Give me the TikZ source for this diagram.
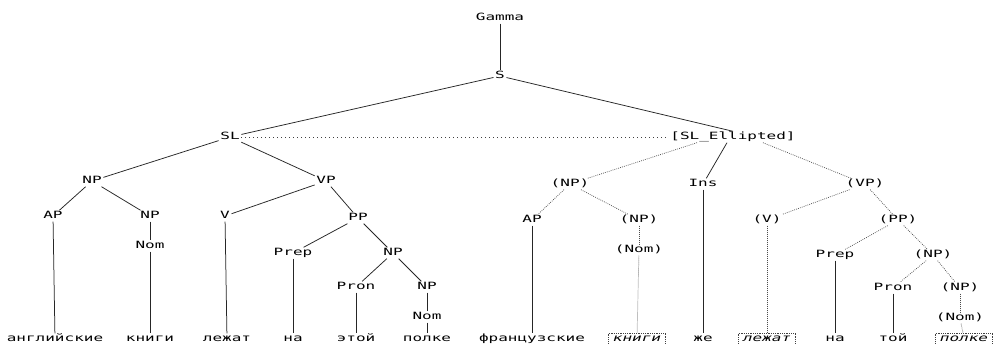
\documentclass[tikz,border=0pt]{standalone}
\usepackage{fontspec}
\newfontfamily\treefont[FakeStretch=1.6]{DejaVu Sans Mono}
\begin{document}
\begin{tikzpicture}[x=1pt,y=-1pt,
  lab/.style={font={\fontsize{10}{12}\treefont}, inner sep=1.5pt, text height=7pt, text depth=1pt},
  wbox/.style={lab, font={\fontsize{10}{12}\treefont\itshape}, draw=black!75, line width=0.6pt, dash pattern=on 0.8pt off 1pt, inner xsep=4.5pt},
  sol/.style={draw=black!85, line width=0.75pt},
  dot/.style={draw=black!70, line width=0.7pt, dash pattern=on 0.8pt off 1.2pt},
  sparse/.style={draw=black!75, line width=0.8pt, dash pattern=on 0.9pt off 3.1pt}]
\fill[white] (0,0) rectangle (994,344);
\useasboundingbox (0,0) rectangle (994,344);
% top
\node[lab] (G) at (500,18) {Gamma};
\node[lab] (S) at (500,76) {S};
\node[lab] (SL) at (230,137) {SL};
\node[lab] (SLE) at (733,137) {[SL\_Ellipted]};
% left subtree
\node[lab] (NPa) at (92,181) {NP};
\node[lab] (VPa) at (326,181) {VP};
\node[lab] (APa) at (53,216) {AP};
\node[lab] (NPb) at (150,216) {NP};
\node[lab] (Noma) at (150,246) {Nom};
\node[lab] (Va) at (225,216) {V};
\node[lab] (PPa) at (358,218) {PP};
\node[lab] (Prepa) at (293,253) {Prep};
\node[lab] (NPc) at (393,253) {NP};
\node[lab] (Prona) at (356,287) {Pron};
\node[lab] (NPd) at (427,287) {NP};
\node[lab] (Nomb) at (427,317) {Nom};
\node[lab] (w1) at (55,339) {английские};
\node[lab] (w2) at (150,339) {книги};
\node[lab] (w3) at (227,339) {лежат};
\node[lab] (w4) at (293,339) {на};
\node[lab] (w5) at (356,339) {этой};
\node[lab] (w6) at (427,339) {полке};
% right subtree
\node[lab] (NPr) at (570,184) {(NP)};
\node[lab] (Ins) at (703,184) {Ins};
\node[lab] (VPr) at (865,184) {(VP)};
\node[lab] (APr) at (532,220) {AP};
\node[lab] (NPr2) at (639,220) {(NP)};
\node[lab] (Nomr) at (639,250) {(Nom)};
\node[lab] (Vr) at (767,220) {(V)};
\node[lab] (PPr) at (898,220) {(PP)};
\node[lab] (Prepr) at (835,255) {Prep};
\node[lab] (NPr3) at (933,255) {(NP)};
\node[lab] (Pronr) at (893,288) {Pron};
\node[lab] (NPr4) at (960,288) {(NP)};
\node[lab] (Nomr2) at (960,318) {(Nom)};
\node[lab] (r1) at (532,338.5) {французские};
\node[wbox] (r2) at (637,338.5) {книги};
\node[lab] (r3) at (703,338.5) {же};
\node[wbox] (r4) at (767,338.5) {лежат};
\node[lab] (r5) at (835,338.5) {на};
\node[lab] (r6) at (893,338.5) {той};
\node[wbox] (r7) at (964,338.5) {полке};
% connectors: top
\draw[sol] (G) -- (S);
\draw[sol] (S) -- (SL);
\draw[sol] (S) -- (SLE.north);
\draw[sparse] (SL) -- (SLE);
% left
\draw[sol] (SL) -- (NPa);
\draw[sol] (SL) -- (VPa);
\draw[sol] (NPa) -- (APa);
\draw[sol] (NPa) -- (NPb);
\draw[sol] (APa) -- (w1);
\draw[sol] (NPb) -- (Noma);
\draw[sol] (Noma) -- (w2);
\draw[sol] (VPa) -- (Va);
\draw[sol] (VPa) -- (PPa);
\draw[sol] (Va) -- (w3);
\draw[sol] (PPa) -- (Prepa);
\draw[sol] (PPa) -- (NPc);
\draw[sol] (Prepa) -- (w4);
\draw[sol] (NPc) -- (Prona);
\draw[sol] (NPc) -- (NPd);
\draw[sol] (Prona) -- (w5);
\draw[sol] (NPd) -- (Nomb);
\draw[sol] (Nomb) -- (w6);
% right
\draw[dot] ([xshift=-36pt]SLE.south) -- (NPr);
\draw[sol] ([xshift=-6pt]SLE.south) -- (Ins);
\draw[dot] ([xshift=30pt]SLE.south) -- (VPr);
\draw[dot] (NPr) -- (APr);
\draw[dot] (NPr) -- (NPr2);
\draw[sol] (APr) -- (r1);
\draw[dot] (NPr2) -- (Nomr);
\draw[dot] (Nomr) -- (r2);
\draw[sol] (Ins) -- (r3);
\draw[dot] (VPr) -- (Vr);
\draw[dot] (VPr) -- (PPr);
\draw[dot] (Vr) -- (r4);
\draw[dot] (PPr) -- (Prepr);
\draw[dot] (PPr) -- (NPr3);
\draw[sol] (Prepr) -- (r5);
\draw[dot] (NPr3) -- (Pronr);
\draw[dot] (NPr3) -- (NPr4);
\draw[sol] (Pronr) -- (r6);
\draw[dot] (NPr4) -- (Nomr2);
\draw[dot] (Nomr2) -- (r7);
\end{tikzpicture}
\end{document}
